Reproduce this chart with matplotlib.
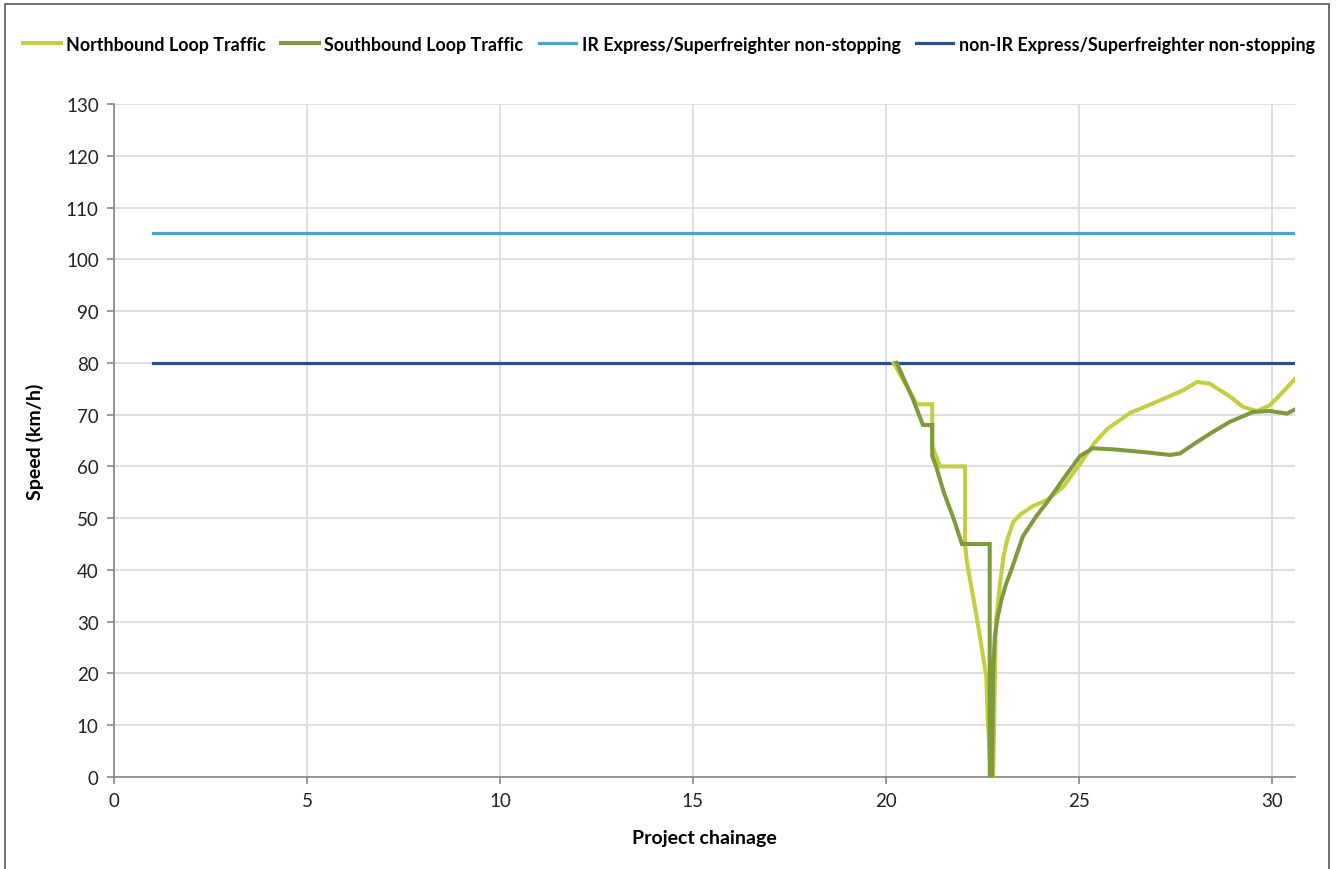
import matplotlib
matplotlib.use("Agg")
import matplotlib.pyplot as plt
from matplotlib.patches import Rectangle

plt.rcParams['font.family'] = ['Lato', 'DejaVu Sans']

# ---------------- data ----------------
nb_x = [20.2, 20.5, 20.8, 21.2, 21.2, 21.3, 21.4, 22.05, 22.05, 22.1, 22.35, 22.6, 22.64, 22.72,
        22.78, 22.85, 22.95, 23.05, 23.15, 23.3, 23.5, 23.8, 24.17, 24.59, 25.03, 25.4, 25.73,
        26.32, 27.18, 27.7, 28.06, 28.39, 28.91, 29.25, 29.61, 29.95, 30.21, 30.6]
nb_y = [80, 76, 72, 72, 64, 62, 60, 60, 45, 41.5, 31, 19.5, 11, 0,
        0, 30, 37, 42.7, 46, 49.3, 50.8, 52.3, 53.5, 56.0, 60.5, 64.5, 67.2,
        70.3, 73.0, 74.7, 76.3, 76.0, 73.5, 71.5, 70.7, 71.8, 73.8, 76.9]

sb_x = [20.28, 20.7, 20.96, 21.2, 21.2, 21.3, 21.5, 21.75, 21.97, 22.69, 22.69, 22.75,
        22.78, 22.82, 22.9, 23.0, 23.1, 23.25, 23.55, 23.9, 24.17, 24.59, 25.03, 25.36,
        25.88, 26.76, 27.36, 27.62, 28.06, 28.5, 28.91, 29.51, 29.95, 30.39, 30.6]
sb_y = [80, 73, 68, 68, 62, 60, 55, 50, 45, 45, 0, 0,
        20, 27, 31, 34.4, 37, 40, 46.5, 50.4, 53, 57.5, 62, 63.5,
        63.3, 62.7, 62.2, 62.5, 64.7, 66.8, 68.6, 70.5, 70.7, 70.2, 71]

ir_x = [1, 30.6]
ir_y = [105, 105]
nonir_x = [1, 30.6]
nonir_y = [80, 80]

series_names = ["Northbound Loop Traffic", "Southbound Loop Traffic",
                "IR Express/Superfreighter non-stopping",
                "non-IR Express/Superfreighter non-stopping"]
x_ticks = [0, 5, 10, 15, 20, 25, 30]
y_ticks = list(range(0, 131, 10))

# ---------------- plot ----------------
fig = plt.figure(figsize=(13.38, 8.70), dpi=100)
ax = fig.add_axes([114/1338, 92/870, (1295-114)/1338, (778-105)/870])

c_nb = "#C3CF3E"
c_sb = "#7E9A3C"
c_ir = "#4FA3D1"
c_nonir = "#2F4E8E"

ax.plot(nb_x, nb_y, color=c_nb, lw=2.9, label=series_names[0], solid_joinstyle='miter', zorder=3)
ax.plot(sb_x, sb_y, color=c_sb, lw=2.9, label=series_names[1], solid_joinstyle='miter', zorder=4)
ax.plot(ir_x, ir_y, color=c_ir, lw=2.3, label=series_names[2], zorder=2)
ax.plot(nonir_x, nonir_y, color=c_nonir, lw=2.3, label=series_names[3], zorder=2)

ax.set_xlim(0, 30.6)
ax.set_ylim(0, 130)
ax.set_xticks(x_ticks)
ax.set_yticks(y_ticks)
ax.grid(True, color="#D9D9D9", lw=1.2, zorder=0)
ax.set_axisbelow(True)
for s in ["top", "right"]:
    ax.spines[s].set_visible(False)
for s in ["left", "bottom"]:
    ax.spines[s].set_color("#868686")
    ax.spines[s].set_linewidth(1.2)
ax.tick_params(axis='both', direction='out', length=5, width=1.2, color="#868686",
               labelsize=13.5, labelcolor="#222222", pad=6)

ax.set_xlabel("Project chainage", fontsize=14, fontweight='bold', labelpad=14)
ax.set_ylabel("Speed (km/h)", fontsize=14, fontweight='bold', labelpad=16)

leg = fig.legend(loc='center', bbox_to_anchor=(0.5, 1 - 45/870), ncol=4, frameon=False,
                 prop={'weight': 'bold', 'size': 12.9}, handlelength=2.1, handletextpad=0.3,
                 columnspacing=0.85)

fig.patches.append(Rectangle((5/1338, -0.05), (1329-5)/1338, 1.05 - 5/870,
                             transform=fig.transFigure, fill=False,
                             edgecolor="#595959", lw=1.2))

fig.savefig("out.png", dpi=100)
